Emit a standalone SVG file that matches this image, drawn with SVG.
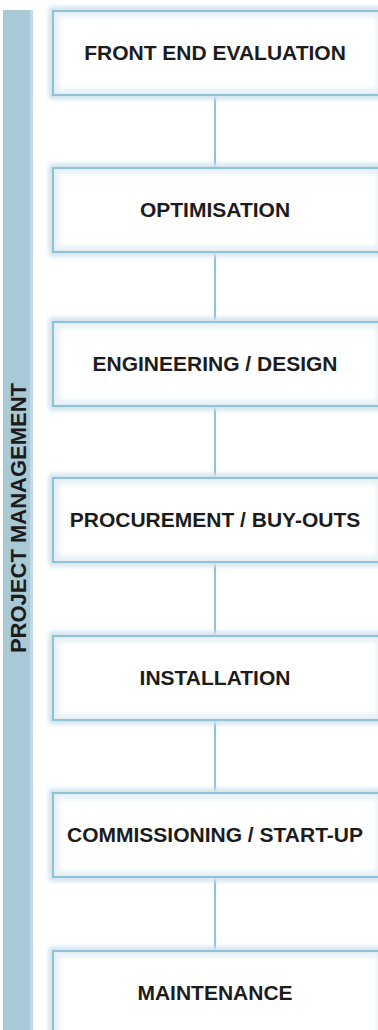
<svg xmlns="http://www.w3.org/2000/svg" width="378" height="1030" viewBox="0 0 378 1030">
<style>
.glow{fill:none;stroke:#bcd8e5;stroke-width:7}
.inner{fill:none;stroke:#e6f0f4;stroke-width:8}
.fill{fill:#ffffff}
.edge{fill:none;stroke:#93c1d5;stroke-width:2.2}
.lbl{font-family:"Liberation Sans",Arial,sans-serif;font-weight:bold;font-size:21px;fill:#1c1c1c;text-anchor:middle}
.side{font-size:22px}
.conn{stroke:#93c1d5;stroke-width:2.2;fill:none}
.connglow{stroke:#d4e6ee;stroke-width:6;fill:none}
</style>
<defs>
<filter id="blur" x="-10%" y="-20%" width="120%" height="140%">
<feGaussianBlur stdDeviation="2.5"/>
</filter>
<clipPath id="cp"><rect x="54" y="12" width="324" height="1030"/></clipPath>
</defs>
<rect width="378" height="1030" fill="#ffffff"/>
<g id="bar">
<rect x="3" y="10" width="30" height="1020" fill="#a9c9d6"/>
<rect x="30" y="10" width="3" height="1020" fill="#c2d9e3"/>
<text class="lbl side" transform="translate(26,518) rotate(-90)" x="0" y="0">PROJECT MANAGEMENT</text>
</g>
<g id="connectors">
<g filter="url(#blur)">
<line class="connglow" x1="215" y1="95" x2="215" y2="168"/>
<line class="connglow" x1="215" y1="252" x2="215" y2="322"/>
<line class="connglow" x1="215" y1="406" x2="215" y2="478"/>
<line class="connglow" x1="215" y1="562" x2="215" y2="636"/>
<line class="connglow" x1="215" y1="720" x2="215" y2="793"/>
<line class="connglow" x1="215" y1="877" x2="215" y2="951"/>
</g>
<line class="conn" x1="215" y1="95" x2="215" y2="168"/>
<line class="conn" x1="215" y1="252" x2="215" y2="322"/>
<line class="conn" x1="215" y1="406" x2="215" y2="478"/>
<line class="conn" x1="215" y1="562" x2="215" y2="636"/>
<line class="conn" x1="215" y1="720" x2="215" y2="793"/>
<line class="conn" x1="215" y1="877" x2="215" y2="951"/>
</g>
<g id="n1"><rect class="glow" filter="url(#blur)" x="53" y="11" width="330" height="84"/><rect class="fill" x="53" y="11" width="330" height="84"/><rect class="inner" filter="url(#blur)" x="55" y="13" width="326" height="80"/><rect class="edge" x="53" y="11" width="330" height="84"/><text class="lbl" x="215" y="60">FRONT END EVALUATION</text></g>
<g id="n2"><rect class="glow" filter="url(#blur)" x="53" y="168" width="330" height="84"/><rect class="fill" x="53" y="168" width="330" height="84"/><rect class="inner" filter="url(#blur)" x="55" y="170" width="326" height="80"/><rect class="edge" x="53" y="168" width="330" height="84"/><text class="lbl" x="215" y="217">OPTIMISATION</text></g>
<g id="n3"><rect class="glow" filter="url(#blur)" x="53" y="322" width="330" height="84"/><rect class="fill" x="53" y="322" width="330" height="84"/><rect class="inner" filter="url(#blur)" x="55" y="324" width="326" height="80"/><rect class="edge" x="53" y="322" width="330" height="84"/><text class="lbl" x="215" y="371">ENGINEERING / DESIGN</text></g>
<g id="n4"><rect class="glow" filter="url(#blur)" x="53" y="478" width="330" height="84"/><rect class="fill" x="53" y="478" width="330" height="84"/><rect class="inner" filter="url(#blur)" x="55" y="480" width="326" height="80"/><rect class="edge" x="53" y="478" width="330" height="84"/><text class="lbl" x="215" y="527">PROCUREMENT / BUY-OUTS</text></g>
<g id="n5"><rect class="glow" filter="url(#blur)" x="53" y="636" width="330" height="84"/><rect class="fill" x="53" y="636" width="330" height="84"/><rect class="inner" filter="url(#blur)" x="55" y="638" width="326" height="80"/><rect class="edge" x="53" y="636" width="330" height="84"/><text class="lbl" x="215" y="685">INSTALLATION</text></g>
<g id="n6"><rect class="glow" filter="url(#blur)" x="53" y="793" width="330" height="84"/><rect class="fill" x="53" y="793" width="330" height="84"/><rect class="inner" filter="url(#blur)" x="55" y="795" width="326" height="80"/><rect class="edge" x="53" y="793" width="330" height="84"/><text class="lbl" x="215" y="842">COMMISSIONING / START-UP</text></g>
<g id="n7"><rect class="glow" filter="url(#blur)" x="53" y="951" width="330" height="100"/><rect class="fill" x="53" y="951" width="330" height="100"/><rect class="inner" filter="url(#blur)" x="55" y="953" width="326" height="96"/><rect class="edge" x="53" y="951" width="330" height="100"/><text class="lbl" x="215" y="1000">MAINTENANCE</text></g>
</svg>
